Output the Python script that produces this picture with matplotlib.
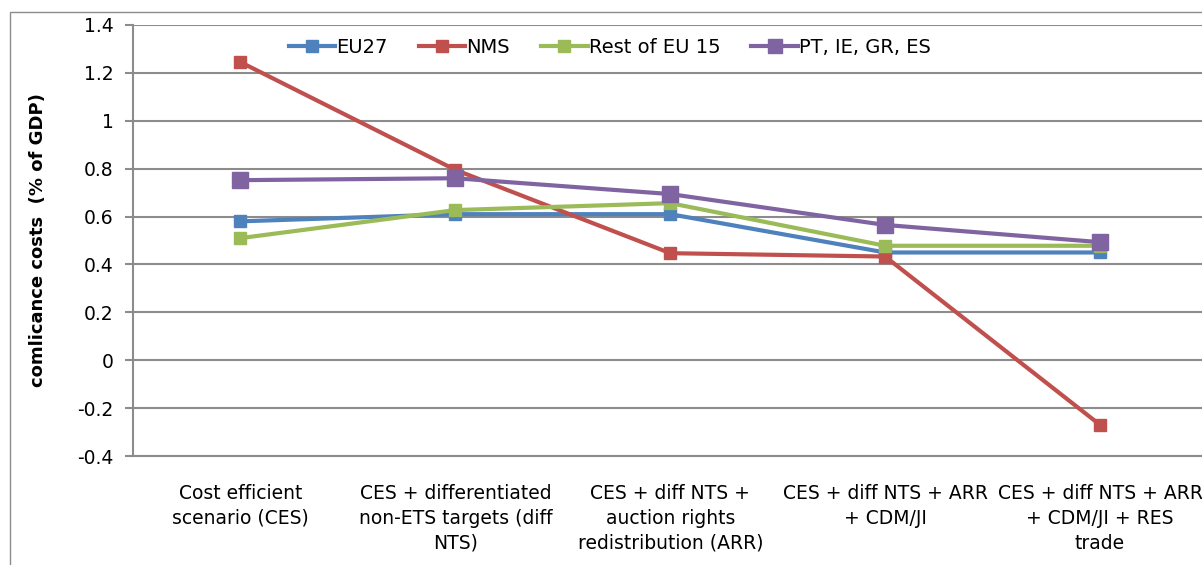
import matplotlib
matplotlib.use("Agg")
import matplotlib.pyplot as plt
from matplotlib.patches import Rectangle

categories = [
    "Cost efficient\nscenario (CES)",
    "CES + differentiated\nnon-ETS targets (diff\nNTS)",
    "CES + diff NTS +\nauction rights\nredistribution (ARR)",
    "CES + diff NTS + ARR\n+ CDM/JI",
    "CES + diff NTS + ARR\n+ CDM/JI + RES\ntrade",
]
eu27 = [0.58, 0.61, 0.61, 0.45, 0.45]
nms = [1.245, 0.795, 0.447, 0.433, -0.27]
rest_eu15 = [0.51, 0.627, 0.656, 0.478, 0.478]
pt_ie_gr_es = [0.752, 0.76, 0.694, 0.565, 0.493]
yticks = [-0.4, -0.2, 0, 0.2, 0.4, 0.6, 0.8, 1, 1.2, 1.4]
ytick_labels = ["-0.4", "-0.2", "0", "0.2", "0.4", "0.6", "0.8", "1", "1.2", "1.4"]

series = [
    ("EU27", eu27, "#4F81BD", 9),
    ("NMS", nms, "#C0504D", 9),
    ("Rest of EU 15", rest_eu15, "#9BBB59", 9),
    ("PT, IE, GR, ES", pt_ie_gr_es, "#8064A2", 11),
]

plt.rcParams['font.family'] = ['DejaVu Sans']

W, H = 1202, 565
fig = plt.figure(figsize=(W / 100, H / 100), dpi=100)

# outer chart frame
fig.add_artist(Rectangle((10 / W, -0.1), 1.2, (H - 12) / H + 0.1, transform=fig.transFigure,
                         fill=False, edgecolor="#8c8c8c", linewidth=1.0))

left, right = 133, 1207.5
top, bottom = 25, 456
ax = fig.add_axes([left / W, 1 - bottom / H, (right - left) / W, (bottom - top) / H])

x = list(range(len(categories)))
for name, vals, color, ms in series:
    ax.plot(x, vals, color=color, linewidth=3, marker="s", markersize=ms,
            markeredgecolor=color, label=name, solid_joinstyle="miter", zorder=3)

ax.set_xlim(-0.5, len(categories) - 0.5)
ax.set_ylim(-0.4, 1.4)
ax.set_yticks(yticks)
ax.set_yticklabels(ytick_labels, fontsize=13.5)
ax.yaxis.grid(True, color="#8c8c8c", linewidth=1.5)
ax.set_axisbelow(True)
ax.set_xticks(x)
ax.set_xticklabels(categories, fontsize=13.5, linespacing=1.4)
ax.tick_params(axis="x", length=0, pad=20)
ax.tick_params(axis="y", length=6, color="#8c8c8c", width=1.5, pad=8)
for s in ["top", "right"]:
    ax.spines[s].set_visible(False)
ax.spines["left"].set_color("#8c8c8c")
ax.spines["left"].set_linewidth(1.5)
ax.spines["bottom"].set_color("#8c8c8c")
ax.spines["bottom"].set_linewidth(1.5)

ax.set_ylabel("comlicance costs  (% of GDP)", fontsize=13, fontweight="bold", labelpad=22)

ax.legend(loc="upper left", bbox_to_anchor=(138 / (right - left), 1.01), ncol=4, frameon=False,
          fontsize=14, handlelength=2.4, columnspacing=1.6, handletextpad=0.05, markerscale=0.9)

fig.savefig("out.png", dpi=100)
